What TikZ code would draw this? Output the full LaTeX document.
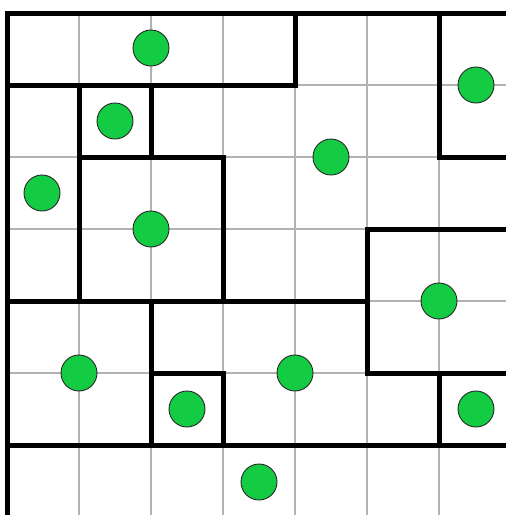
\documentclass[tikz,border=0pt]{standalone}
\begin{document}
\begin{tikzpicture}[x=1pt,y=-1pt,
  thin grid/.style={draw=black!30,line width=1.1pt},
  wall/.style={draw=black,line width=5pt,line cap=rect,line join=miter},
  dot/.style={circle,draw=black!85,line width=0.9pt,fill={rgb,255:red,20;green,204;blue,68},minimum size=36pt,inner sep=0pt}]
\useasboundingbox (0,0) rectangle (506,515);
\fill[white] (0,0) rectangle (506,515);
\begin{scope}
\clip (0,0) rectangle (506,515);
% thin grid
\foreach \x in {79,151,223,295,367,439} \draw[thin grid] (\x,13) -- (\x,515);
\foreach \y in {85,157,229,301,373,445} \draw[thin grid] (7,\y) -- (506,\y);
% walls
\draw[wall] (7,520) -- (7,13) -- (512,13);
\draw[wall] (7,85) -- (295,85) -- (295,13);
\draw[wall] (439,13) -- (439,157) -- (512,157);
\draw[wall] (151,85) -- (151,157);
\draw[wall] (79,85) -- (79,301);
\draw[wall] (79,157) -- (223,157) -- (223,301);
\draw[wall] (7,301) -- (367,301);
\draw[wall] (512,229) -- (367,229) -- (367,373) -- (512,373);
\draw[wall] (151,301) -- (151,445);
\draw[wall] (151,373) -- (223,373) -- (223,445);
\draw[wall] (439,373) -- (439,445);
\draw[wall] (7,445) -- (512,445);
\end{scope}
% dots
\node[dot] (d1) at (151,48) {};
\node[dot] (d2) at (115,121) {};
\node[dot] (d3) at (42,193) {};
\node[dot] (d4) at (476,85) {};
\node[dot] (d5) at (331,157) {};
\node[dot] (d6) at (151,229) {};
\node[dot] (d7) at (439,301) {};
\node[dot] (d8) at (79,373) {};
\node[dot] (d9) at (295,373) {};
\node[dot] (d10) at (187,409) {};
\node[dot] (d11) at (476,409) {};
\node[dot] (d12) at (259,482) {};
\end{tikzpicture}
\end{document}
